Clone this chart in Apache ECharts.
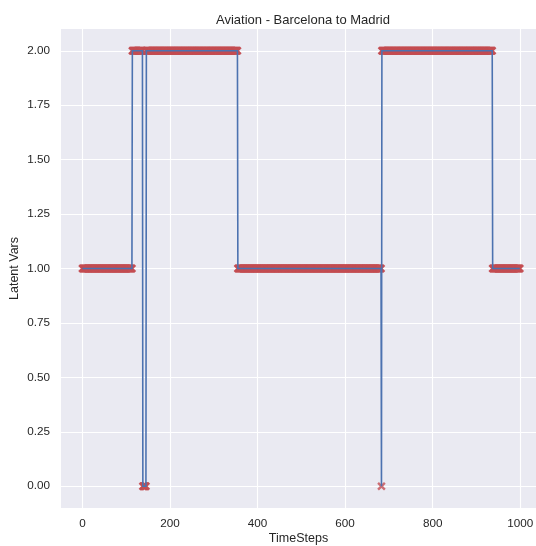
<!DOCTYPE html>
<html>
<head>
<meta charset="utf-8">
<script src="https://cdn.jsdelivr.net/npm/echarts@6/dist/echarts.min.js"></script>
<style>
  html, body { margin: 0; padding: 0; background: #ffffff; }
  #chart { width: 536px; height: 546px; }
</style>
</head>
<body>
<div id="chart"></div>
<script>
// Latent state sequence, stored as consecutive runs (state level, number of time steps)
const stateLevels = [1, 2, 0, 2, 1, 0, 2, 1];
const stateRunLengths = [114, 24, 8, 209, 328, 1, 253, 63];

const xTicks = [0, 200, 400, 600, 800, 1000];
const yTicks = [0, 0.25, 0.5, 0.75, 1, 1.25, 1.5, 1.75, 2];

// Expand runs into one value per time step
const latentVars = [];
stateLevels.forEach((lvl, i) => {
  for (let k = 0; k < stateRunLengths[i]; k++) latentVars.push(lvl);
});
const points = latentVars.map((v, t) => [t, v]);

const FONT = '"Liberation Sans", Arial, sans-serif';
const TEXT = '#262626';
const crossPath = 'path://M0,2L2,0L5,3L8,0L10,2L7,5L10,8L8,10L5,7L2,10L0,8L3,5Z';

const chart = echarts.init(document.getElementById('chart'), null, { renderer: 'canvas' });
chart.setOption({
  animation: false,
  backgroundColor: '#ffffff',
  title: {
    text: 'Aviation - Barcelona to Madrid',
    left: 298, top: 9, textAlign: 'center',
    textStyle: { fontFamily: FONT, fontSize: 13, fontWeight: 'normal', color: TEXT }
  },
  grid: {
    left: 61, right: 0, top: 29, bottom: 38,
    outerBoundsMode: 'none', containLabel: false,
    show: true, backgroundColor: '#eaeaf2', borderWidth: 0
  },
  xAxis: {
    type: 'value', min: -49, max: 1036,
    name: 'TimeSteps', nameLocation: 'middle', nameGap: 24, nameMoveOverlap: false,
    nameTextStyle: { fontFamily: FONT, fontSize: 12.5, color: TEXT },
    axisLine: { show: false },
    axisTick: { show: false, customValues: xTicks },
    axisLabel: {
      customValues: xTicks, fontFamily: FONT, fontSize: 11.7, color: TEXT, margin: 10,
      formatter: v => String(v)
    },
    splitLine: { show: true, lineStyle: { color: '#ffffff', width: 1.1 } }
  },
  yAxis: {
    type: 'value', min: -0.1, max: 2.1,
    name: 'Latent Vars', nameLocation: 'middle', nameGap: 40, nameMoveOverlap: false,
    nameTextStyle: { fontFamily: FONT, fontSize: 12.5, color: TEXT },
    axisLine: { show: false },
    axisTick: { show: false, customValues: yTicks },
    axisLabel: {
      customValues: yTicks, fontFamily: FONT, fontSize: 11.7, color: TEXT, margin: 11,
      formatter: v => v.toFixed(2)
    },
    splitLine: { show: true, lineStyle: { color: '#ffffff', width: 1.1 } }
  },
  series: [
    {
      type: 'scatter',
      data: points,
      symbol: crossPath,
      symbolSize: 8.5,
      itemStyle: { color: '#c44e52' },
      z: 2
    },
    {
      // full-resolution polyline through every time step (no point thinning)
      type: 'lines',
      coordinateSystem: 'cartesian2d',
      polyline: true,
      data: [{ coords: points }],
      symbol: 'none',
      lineStyle: { color: '#4c72b0', width: 1.6, opacity: 1, curveness: 0 },
      z: 3
    }
  ]
});
</script>
</body>
</html>
